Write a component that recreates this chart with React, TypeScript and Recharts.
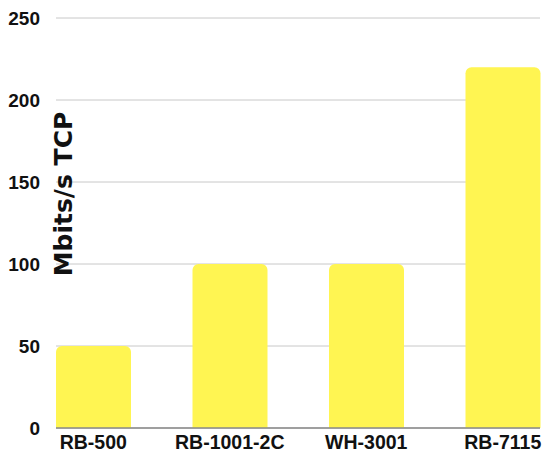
import { BarChart, Bar, XAxis, YAxis, CartesianGrid, Label } from 'recharts';

const devices = ['RB-500', 'RB-1001-2C', 'WH-3001', 'RB-7115'];
const tcpMbits = [50, 100, 100, 220];
const yTicks = [0, 50, 100, 150, 200, 250];

const data = devices.map((name, i) => ({ name, value: tcpMbits[i] }));

const FONT = '"Liberation Sans", Arial, sans-serif';

export default function App() {
  return (
    <div style={{ position: 'absolute', left: 0, top: 0, width: 542, height: 453, background: '#fff' }}>
      <BarChart
        width={542}
        height={453}
        data={data}
        margin={{ top: 18, right: 2, left: 0, bottom: 0 }}
        barCategoryGap={31}
      >
        <CartesianGrid vertical={false} stroke="#c8c8c8" strokeWidth={1} />
        <XAxis
          dataKey="name"
          padding={{ left: -31, right: -31 }}
          height={25}
          tickLine={false}
          tickSize={0}
          tickMargin={7}
          axisLine={{ stroke: '#888', strokeWidth: 1.5 }}
          tick={{ fill: '#111', fontSize: 19.5, fontWeight: 700, fontFamily: FONT }}
          interval={0}
        />
        <YAxis
          width={56}
          domain={[0, 250]}
          ticks={yTicks}
          axisLine={false}
          tickLine={false}
          tickSize={0}
          tickMargin={16}
          tick={{ fill: '#111', fontSize: 19, fontWeight: 700, fontFamily: FONT }}
        >
          <Label
            content={() => (
              <text
                x={0}
                y={0}
                transform="translate(72,194) rotate(-90)"
                textAnchor="middle"
                fill="#111"
                fontSize={25}
                fontWeight={700}
                fontFamily='"DejaVu Sans", sans-serif'
              >
                Mbits/s TCP
              </text>
            )}
          />
        </YAxis>
        <Bar dataKey="value" fill="#fff552" radius={[6, 6, 0, 0]} isAnimationActive={false} />
      </BarChart>
    </div>
  );
}
